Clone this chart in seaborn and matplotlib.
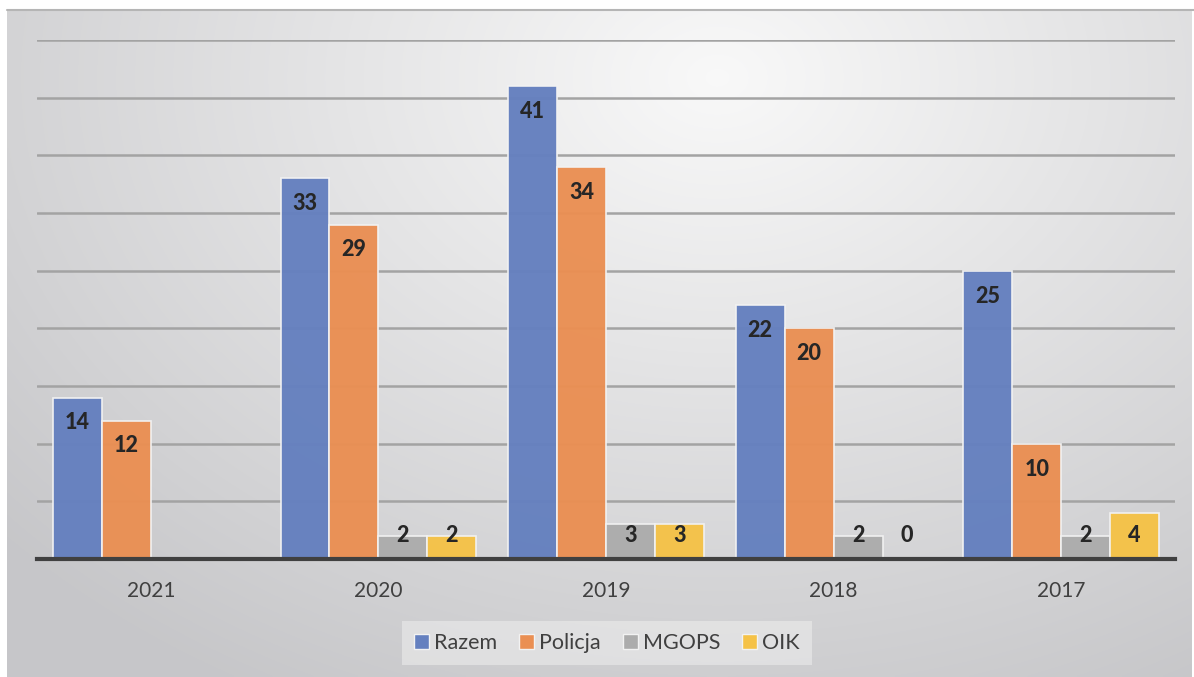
import numpy as np
import pandas as pd
import matplotlib
matplotlib.use("Agg")
import matplotlib.pyplot as plt
from matplotlib.patches import Patch
import seaborn as sns

years = ["2021", "2020", "2019", "2018", "2017"]
series = ["Razem", "Policja", "MGOPS", "OIK"]
razem = [14, 33, 41, 22, 25]
policja = [12, 29, 34, 20, 10]
mgops = [np.nan, 2, 3, 2, 2]
oik = [np.nan, 2, 3, 0, 4]
colors = ["#6580bf", "#ea8f53", "#acacac", "#f5c247"]

rows = []
for name, vals in zip(series, [razem, policja, mgops, oik]):
    for y, v in zip(years, vals):
        rows.append({"year": y, "series": name, "value": v})
df = pd.DataFrame(rows)

sns.set_theme(style="white")
plt.rcParams["font.family"] = ["Lato", "DejaVu Sans"]

W, H = 1194, 677
fig = plt.figure(figsize=(W / 100, H / 100), dpi=100)
fig.patch.set_facecolor("white")

# background gradient panel
bg = fig.add_axes([7 / W, 0, (W - 9) / W, (H - 10) / H])
nx, ny = 400, 240
xx, yy = np.meshgrid(np.linspace(0, 1, nx), np.linspace(0, 1, ny))
r = np.sqrt(((xx - 0.6) / 0.8) ** 2 + ((yy - 0.1) / 1.05) ** 2)
r = np.clip(r, 0, 1)
light = np.array([0.975, 0.975, 0.975])
dark = np.array([0.78, 0.78, 0.79])
img = light[None, None, :] * (1 - r[..., None]) + dark[None, None, :] * r[..., None]
bg.imshow(img, aspect="auto", extent=[0, 1, 1, 0], interpolation="bilinear")
bg.set_axis_off()
fig.add_artist(plt.Line2D([7 / W, 1], [(H - 10) / H, (H - 10) / H],
                          transform=fig.transFigure, color="#b5b5b5", lw=1.5))

ax = fig.add_axes([37 / W, (H - 559) / H, (1175 - 37) / W, (559 - 40) / H])
ax.set_facecolor("none")
ax.set_zorder(2)

sns.barplot(data=df, x="year", y="value", hue="series", order=years,
            hue_order=series, palette=colors, saturation=1, width=0.86, gap=0,
            edgecolor="#f2f2f2", linewidth=1.2, alpha=0.97, ax=ax,
            legend=False, errorbar=None, zorder=3)

ax.set_xlim(-0.5, 4.5)
ax.set_ylim(0, 45)
ax.set_yticks(np.arange(5, 46, 5))
ax.yaxis.grid(True, color="#a3a3a3", lw=1.8)
ax.set_axisbelow(True)
ax.tick_params(axis="y", left=False, labelleft=False)
ax.tick_params(axis="x", bottom=False, labelsize=15, labelcolor="#404040", pad=10)
ax.set_xlabel("")
ax.set_ylabel("")
for s in ["top", "right", "left"]:
    ax.spines[s].set_visible(False)
ax.spines["bottom"].set_color("#404040")
ax.spines["bottom"].set_linewidth(3)
ax.spines["bottom"].set_zorder(5)

for p in ax.patches:
    h = p.get_height()
    if h is None or np.isnan(h):
        continue
    xc = p.get_x() + p.get_width() / 2
    ax.text(xc, max(h - 2.2, 2.05), f"{int(round(h))}", ha="center", va="center",
            fontsize=15.5, fontweight="black", color="#262626", zorder=6)

handles = [Patch(facecolor=c, edgecolor="#f2f2f2", lw=1) for c in colors]
leg = fig.legend(handles, series, loc="center", bbox_to_anchor=(607 / W, 1 - 643 / H),
                 ncol=4, frameon=True, fontsize=15.5, handlelength=0.7, handleheight=0.7,
                 handletextpad=0.25, columnspacing=1.0, borderpad=0.55)
leg.get_frame().set_facecolor("#ececec")
leg.get_frame().set_alpha(0.6)
leg.get_frame().set_edgecolor("none")
leg.get_frame().set_boxstyle("square", pad=0)
for t in leg.get_texts():
    t.set_color("#404040")

fig.savefig("out.png", dpi=100)
